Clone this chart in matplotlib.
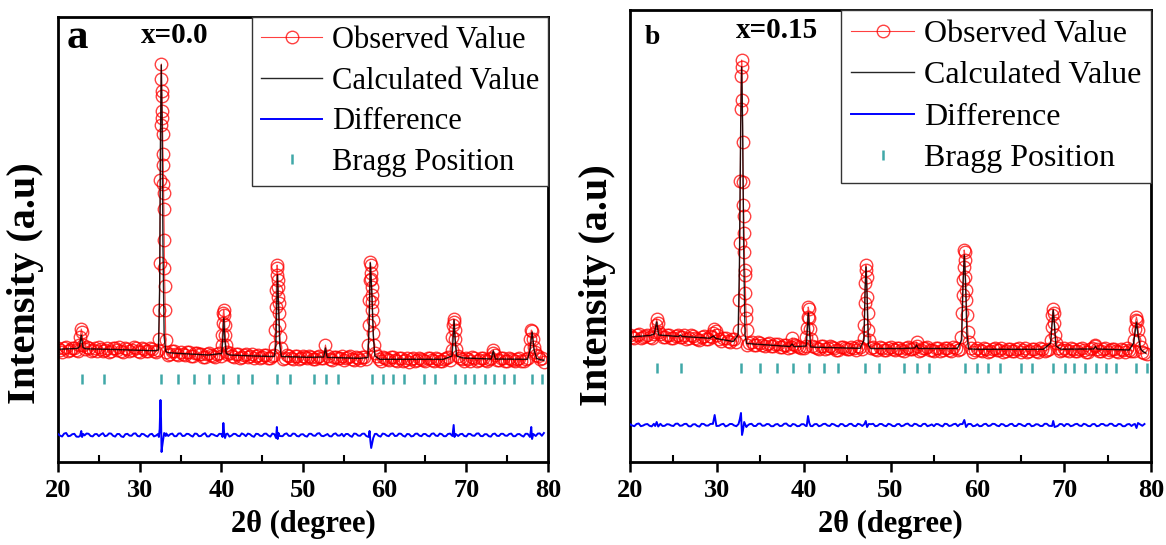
import numpy as np
import matplotlib
matplotlib.use("Agg")
import matplotlib.pyplot as plt
from matplotlib.ticker import MultipleLocator

nan = np.nan

# ----- DATA (arbitrary intensity units) -----
# background points every 0.5 deg from 20.0 (grid 1) and from 20.25 (grid 2),
# nan where a peak list takes over
GRID_X = np.arange(20.0, 80.0, 0.5)
GRID_X2 = GRID_X + 0.25

# panel a, x=0.0
A_OBS_BG = [
    870, 835, 880, 850, 872, 845, nan, 880, 840, 868,
    878, 845, 870, 842, 866, 880, 835, 862, 848, 870,
    830, 858, 845, 862, 835, nan, nan, 800, 845, 810,
    832, 800, 828, 795, 822, 808, 780, 818, 795, 812,
    790, nan, 820, 785, 808, 780, 812, 790, 772, 805,
    782, 798, 770, 800, nan, 760, 798, 772, 790, 760,
    795, 768, 785, 760, 792, 770, 790, 755, 785, 768,
    750, 782, 760, 778, 748, 785, nan, nan, 790, 745,
    772, 750, 778, 742, 768, 755, 735, 770, 748, 765,
    738, 772, 745, 760, 738, 770, 752, nan, 790, 758,
    775, 745, 768, 750, 772, 740, 770, 800, 750, 768,
    742, 765, 738, 770, 745, 775, nan, 800, 760, 735,
]
A_OBS_BG2 = [
    848, 875, 838, 866, 852, nan, 858, 872, 852, 838,
    862, 855, 835, 875, 850, 840, 868, 838, 876, 842,
    866, 838, 872, 840, 855, nan, 835, 815, 838, 800,
    815, 830, 790, 820, 808, 785, 812, 798, 780, 820,
    nan, 808, 790, 815, 775, 800, 785, 810, 790, 775,
    800, 772, 795, nan, nan, 775, 790, 765, 788, 772,
    782, 795, 765, 785, 775, nan, 765, 782, 770, 792,
    768, 790, 752, 772, 780, 758, nan, nan, 765, 778,
    760, 785, 748, 770, 742, 775, 758, 740, 772, 750,
    768, 748, 775, 742, 765, 780, nan, nan, 772, 745,
    760, 778, 745, 770, 752, 765, 820, 752, 775, 745,
    770, 748, 762, 740, 758, nan, nan, 790, 768, nan,
]
A_OBS_PK_X = [22.6, 22.75, 22.85, 22.95, 23.1,
              32.35, 32.42, 32.47, 32.52, 32.57, 32.62, 32.66, 32.70, 32.73, 32.76, 32.79,
              32.82, 32.85, 32.88, 32.91, 32.94, 32.97, 33.0, 33.04, 33.08, 33.13, 33.2,
              40.05, 40.12, 40.18, 40.24, 40.3, 40.36, 40.42, 40.48, 40.55, 40.65,
              46.55, 46.62, 46.68, 46.73, 46.78, 46.83, 46.87, 46.91, 46.95, 46.99, 47.03,
              47.07, 47.12, 47.18, 47.25,
              52.75,
              58.0, 58.07, 58.13, 58.18, 58.23, 58.27, 58.31, 58.35, 58.39, 58.43, 58.47,
              58.51, 58.56, 58.62, 58.7, 58.8,
              68.2, 68.3, 68.38, 68.45, 68.52, 68.58, 68.65, 68.75,
              73.3,
              77.75, 77.85, 77.95, 78.05, 78.15, 78.25, 78.35]
A_OBS_PK_Y = [900, 980, 1060, 1030, 900,
              960, 1250, 1720, 2550, 3100, 3560, 3710, 3440, 3390, 3240, 3170,
              3010, 2810, 2700, 2510, 2420, 2260, 1950, 1670, 1490, 1250, 950,
              900, 1000, 1120, 1220, 1250, 1200, 1100, 1000, 900, 830,
              880, 1050, 1280, 1450, 1600, 1700, 1670, 1550, 1480, 1380, 1320,
              1220, 1100, 980, 870,
              900,
              900, 1100, 1350, 1550, 1730, 1700, 1620, 1560, 1480, 1400, 1330,
              1250, 1150, 1020, 900, 820,
              850, 980, 1100, 1160, 1130, 1050, 960, 860,
              850,
              860, 960, 1050, 1040, 960, 880, 830]
A_CALC_X = [20.0, 22.4, 22.65, 22.85, 23.05, 23.4, 26.0, 28.0, 31.8, 32.3, 32.45, 32.55,
            32.65, 32.75, 32.85, 33.0, 33.2, 33.5, 35.0, 38.4, 40.05, 40.18, 40.3, 40.42,
            40.6, 41.0, 44.0, 46.5, 46.68, 46.8, 46.88, 46.98, 47.15, 47.35, 50.6, 52.55,
            52.75, 52.95, 57.0, 57.95, 58.1, 58.25, 58.42, 58.6, 58.8, 59.4, 67.2, 68.25,
            68.38, 68.5, 68.62, 68.8, 69.6, 73.05, 73.3, 73.55, 77.5, 77.8, 78.05, 78.3,
            78.6, 79.2, 79.5]
A_CALC_Y = [857, 866, 885, 1000, 875, 862, 857, 852, 843, 850, 1500, 3000,
            3700, 3100, 1900, 980, 835, 823, 815, 800, 815, 960, 1170, 960,
            815, 800, 790, 785, 900, 1350, 1600, 1350, 900, 785, 777, 780,
            870, 776, 767, 775, 1100, 1720, 1450, 1000, 790, 757, 757, 790,
            960, 1150, 960, 790, 770, 760, 840, 760, 757, 850, 1030, 850,
            765, 750, 748]
A_DIFF_BG = [
    10, -15, 20, -8, 12, -18, nan, 15, -10, 8,
    -12, 18, -6, 14, -16, 10, -20, 12, -8, 16,
    -14, 8, -18, 12, -6, nan, nan, -10, 14, -12,
    16, -8, 10, -16, 12, -10, 18, -14, 6, -12,
    10, nan, -16, 12, -8, 16, -12, 8, -18, 10,
    -10, 14, -16, 8, nan, -12, 16, -10, 12, -14,
    8, -16, 12, -8, 18, -12, 10, -14, 16, -6,
    -14, 10, -18, 12, -8, 14, nan, nan, 12, -16,
    10, -12, 16, -8, 12, -16, 8, -10, 14, -12,
    10, -14, 16, -10, 8, -12, 14, nan, -10, 12,
    -14, 10, -8, 16, -12, 8, -16, 14, -10, 12,
    -8, 14, -12, 10, -16, 12, nan, -10, 16, 20,
]
A_DIFF_BG2 = [
    -6, 14, -12, 8, -16, nan, -4, 12, -14, 10,
    6, -12, 16, -8, 10, -14, 8, -6, 14, -10,
    12, -8, 6, -14, 10, nan, 16, 8, -12, 14,
    -10, 12, -6, 14, -12, 8, -14, 10, -6, 12,
    nan, 14, -6, 10, -12, 6, 14, -10, 12, -8,
    12, -6, 14, nan, nan, 10, -8, 14, -10, 6,
    -10, 12, -6, 14, -8, nan, -12, 10, -6, 12,
    10, -8, 14, -6, 12, -10, nan, nan, -8, 14,
    -6, 12, -10, 14, -8, 10, -14, 12, -6, 10,
    -8, 12, -6, 14, -12, 10, nan, nan, 8, -10,
    12, -6, 14, -10, 8, -12, 10, -8, 12, -6,
    10, -12, 8, -6, 12, nan, nan, 14, -8, nan,
]
A_DIFF_PK_X = [22.7, 22.85, 22.95, 23.1,
               32.35, 32.45, 32.55, 32.62, 32.68, 32.75, 32.85, 33.0, 33.2,
               40.15, 40.25, 40.35, 40.45, 40.6,
               46.7, 46.8, 46.9, 47.0, 47.15,
               58.05, 58.15, 58.25, 58.35, 58.45, 58.6, 58.8,
               68.3, 68.45, 68.55, 68.7,
               77.8, 77.95, 78.05, 78.2]
A_DIFF_PK_Y = [-10, 40, -20, 10,
               -20, 60, 350, 150, -170, -120, -60, 20, -10,
               -20, 120, 20, -30, 10,
               -30, 80, -40, 20, -10,
               -20, 40, -60, -130, -90, -30, 10,
               -10, 100, -20, 10,
               -20, 80, -40, 10]
A_BRAGG = [22.90, 25.63, 32.61, 34.65, 36.65, 38.53, 40.24, 42.08, 43.71, 46.85,
           48.41, 51.39, 52.82, 54.24, 58.41, 59.75, 61.06, 62.37, 64.86, 66.16,
           68.61, 69.84, 70.98, 72.28, 73.42, 74.65, 75.84, 78.08, 79.30]

# panel b, x=0.15
B_OBS_BG = [
    900, 870, 915, 880, 905, 875, nan, 910, 878, 900,
    870, 905, 882, 860, 898, 872, 850, 888, 862, 880,
    nan, 845, 870, 835, 858, nan, nan, 800, 835, 805,
    825, 795, 818, 790, 812, 780, 805, 778, 800, 782,
    770, nan, 795, 768, 788, 760, 792, 770, 752, 785,
    765, 780, 750, 785, nan, nan, 780, 752, 775, 748,
    780, 755, 772, 745, 778, 760, 790, 748, 772, 755,
    742, 775, 750, 770, 740, 772, 760, nan, nan, 735,
    768, 742, 765, 738, 770, 748, 730, 765, 745, 760,
    735, 768, 740, 758, 732, 765, 748, nan, nan, 740,
    768, 738, 760, 745, 770, 735, 762, 790, 742, 760,
    732, 758, 740, 762, 730, 755, 740, nan, 735, 710,
]
B_OBS_BG2 = [
    885, 905, 872, 895, 880, 908, nan, 885, 902, 868,
    895, 878, 900, 870, 892, 858, 880, 865, 895, nan,
    860, 875, 842, 865, 830, nan, nan, 820, 798, 830,
    800, 815, 792, 808, 785, 800, 772, 810, 790, 770,
    795, nan, 780, 762, 790, 770, 778, 755, 782, 768,
    758, 772, 790, 760, nan, 772, 760, 780, 755, 775,
    760, 768, 750, 775, 758, 770, 742, 768, 782, 750,
    768, 745, 772, 755, 780, 748, nan, nan, 770, 752,
    750, 770, 735, 758, 752, 772, 745, 760, 738, 768,
    750, 730, 760, 745, 770, 742, 760, nan, 772, 748,
    750, 770, 740, 762, 748, 735, 772, 760, 745, 768,
    748, 765, 735, 752, 770, 742, nan, nan, 722, nan,
]
B_OBS_PK_X = [22.85, 22.97, 23.07, 23.17, 23.3,
              29.55, 29.7, 29.85, 30.0,
              32.5, 32.58, 32.64, 32.7, 32.75, 32.8, 32.86, 32.9, 32.94, 32.98, 33.02,
              33.06, 33.1, 33.14, 33.18, 33.22, 33.26, 33.3, 33.35, 33.4, 33.48,
              38.66,
              40.3, 40.38, 40.45, 40.52, 40.58, 40.64, 40.72, 40.82,
              46.9, 46.98, 47.04, 47.1, 47.16, 47.22, 47.27, 47.32, 47.37, 47.45, 47.55,
              53.0,
              58.15, 58.23, 58.3, 58.36, 58.42, 58.48, 58.53, 58.58, 58.63, 58.68, 58.73,
              58.8, 58.9, 59.0,
              68.45, 68.55, 68.64, 68.72, 68.8, 68.88, 68.96, 69.08,
              73.6,
              78.05, 78.15, 78.25, 78.33, 78.42, 78.52, 78.65, 78.8]
B_OBS_PK_Y = [930, 1000, 1060, 1020, 930,
              920, 960, 940, 900,
              950, 1250, 1820, 2440, 3160, 3490, 3650, 3580, 3250, 2830, 2430,
              2200, 2090, 1920, 1730, 1550, 1500, 1320, 1150, 1070, 950,
              870,
              880, 970, 1080, 1180, 1160, 1070, 960, 860,
              870, 1000, 1220, 1420, 1600, 1550, 1480, 1280, 1120, 950, 850,
              830,
              880, 1120, 1300, 1450, 1580, 1750, 1730, 1650, 1480, 1350, 1250,
              1100, 930, 830,
              850, 980, 1100, 1160, 1120, 1020, 900, 820,
              800,
              850, 960, 1050, 1080, 1040, 950, 850, 780]
B_CALC_X = [20.0, 22.3, 22.8, 23.07, 23.3, 25.6, 25.8, 26.0, 29.2, 29.6, 29.9, 31.9,
            32.45, 32.6, 32.75, 32.86, 32.97, 33.1, 33.25, 33.44, 38.4, 38.66, 38.9,
            40.3, 40.42, 40.54, 40.66, 40.8, 41.5, 46.5, 46.95, 47.07, 47.18, 47.3,
            47.45, 47.7, 51.4, 52.8, 53.0, 53.2, 57.7, 58.2, 58.35, 58.5, 58.65, 58.8,
            59.0, 60.5, 67.6, 68.45, 68.6, 68.74, 68.88, 69.05, 69.6, 73.4, 73.6, 73.8,
            77.5, 78.0, 78.2, 78.33, 78.5, 78.8, 79.1, 79.4]
B_CALC_Y = [880, 895, 910, 1030, 900, 885, 900, 885, 868, 890, 865, 835,
            900, 1600, 3000, 3580, 3000, 1700, 900, 815, 785, 810, 783,
            790, 950, 1120, 950, 780, 777, 767, 850, 1350, 1580, 1300,
            800, 765, 765, 770, 800, 765, 765, 850, 1400, 1700, 1400, 900,
            760, 757, 757, 820, 1000, 1150, 1000, 790, 758, 760, 785, 760,
            750, 820, 950, 1030, 900, 760, 733, 720]
B_DIFF_BG = [
    8, -12, 15, -6, 10, -14, nan, 12, -8, 6,
    -10, 14, -5, 12, -14, 8, -16, 10, -6, 12,
    nan, 6, -14, 10, -5, nan, nan, -8, 12, -10,
    14, -6, 8, -12, 10, -8, 15, -12, 5, -10,
    8, nan, -12, 10, -6, 12, -10, 6, -14, 8,
    -8, 12, -12, 6, nan, nan, 12, -8, 10, -12,
    6, -12, 10, -6, 14, -10, 8, -12, 12, -5,
    -12, 8, -14, 10, -6, 12, 8, nan, nan, -12,
    8, -10, 12, -6, 10, -12, 6, -8, 12, -10,
    8, -12, 12, -8, 6, -10, 12, nan, nan, 10,
    -12, 8, -6, 12, -10, 6, -12, 10, -8, 10,
    -6, 12, -10, 8, -12, 10, 6, nan, -8, nan,
]
B_DIFF_BG2 = [
    -5, 10, -12, 6, -8, 12, nan, -10, 8, -6,
    12, -8, 10, -12, 6, -10, 12, -6, 10, nan,
    -8, 12, -6, 10, -12, nan, nan, 8, -10, 12,
    -8, 10, -12, 6, -10, 12, -6, 10, -12, 8,
    -10, nan, 8, -12, 10, -6, 12, -8, 10, -12,
    10, -8, 12, -10, nan, 8, -12, 10, -6, 12,
    -10, 8, -12, 10, -6, 12, -8, 10, -12, 6,
    10, -6, 12, -10, 8, -12, nan, nan, 10, -8,
    -12, 8, -10, 12, -6, 10, -12, 8, -10, 12,
    -6, 10, -12, 8, -10, 12, -8, nan, -10, 8,
    10, -12, 8, -6, 12, -10, 8, -12, 10, -6,
    12, -8, 10, -12, 6, -10, nan, nan, 10, nan,
]
B_DIFF_PK_X = [22.9, 23.07, 23.25,
               29.55, 29.75, 29.95,
               32.5, 32.65, 32.78, 32.9, 33.0, 33.15, 33.4,
               40.35, 40.5, 40.65, 40.8,
               47.0, 47.15, 47.3, 47.5,
               58.3, 58.5, 58.7, 58.95,
               68.6, 68.74, 68.9,
               78.15, 78.33, 78.5]
B_DIFF_PK_Y = [-10, 30, -15,
               10, 100, -10,
               10, 60, 120, -100, -60, 30, -20,
               -10, 90, 20, -10,
               10, 40, -20, 10,
               10, 50, -20, 10,
               -10, 40, -20,
               10, -30, 20]
B_BRAGG = [23.13, 25.87, 32.81, 35.0, 36.9, 38.76, 40.58, 42.33, 43.91, 47.12,
           48.67, 51.6, 53.03, 54.46, 58.63, 59.97, 61.2, 62.56, 65.05, 66.32,
           68.74, 70.09, 71.13, 72.39, 73.66, 74.77, 75.96, 78.33, 79.53]

LEGEND_LABELS = ["Observed Value", "Calculated Value", "Difference", "Bragg Position"]

# ----- HELPERS -----
W, H = 1166, 545
SERIF = "Liberation Serif"


def merge(bg1, bg2, pk_x, pk_y):
    # both background grids + peak points, sorted along 2theta
    xs, ys = [np.asarray(pk_x, float)], [np.asarray(pk_y, float)]
    for gx, gy in ((GRID_X, bg1), (GRID_X2, bg2)):
        gy = np.asarray(gy, dtype=float)
        keep = ~np.isnan(gy)
        xs.append(gx[keep])
        ys.append(gy[keep])
    x = np.concatenate(xs)
    y = np.concatenate(ys)
    order = np.argsort(x)
    return x[order], y[order]


def fig_text(px, py, s, **kw):
    fig.text(px / W, 1 - py / H, s, ha="center", va="center", family=SERIF, **kw)


def draw_panel(ax, obs, calc, diff, bragg, bragg_y, ylim, leg_size):
    l_obs, = ax.plot(obs[0], obs[1], color="red", lw=0.8, marker="o", ms=9,
                     mfc="none", mew=1.0, alpha=0.75, zorder=2)
    l_calc, = ax.plot(calc[0], calc[1], color="black", lw=1.0, alpha=0.85, zorder=3)
    l_diff, = ax.plot(diff[0], diff[1], color="blue", lw=1.4, zorder=3)
    l_bragg, = ax.plot(bragg, [bragg_y] * len(bragg), ls="none", marker="|",
                       ms=7.5, mew=1.8, color="#008b8b", alpha=0.75, zorder=3)

    ax.set_xlim(20, 80)
    ax.set_ylim(*ylim)
    ax.set_yticks([])
    ax.xaxis.set_major_locator(MultipleLocator(10))
    ax.xaxis.set_minor_locator(MultipleLocator(5))
    ax.tick_params(axis="x", which="major", direction="out", length=7, width=1.8, pad=5)
    ax.tick_params(axis="x", which="minor", direction="in", length=5, width=1.5)
    for lab in ax.get_xticklabels():
        lab.set_fontfamily(SERIF)
        lab.set_fontweight("bold")
        lab.set_fontsize(19)
    for sp in ax.spines.values():
        sp.set_linewidth(2.0)
    ax.set_xlabel("2θ (degree)", family=SERIF, fontweight="bold", fontsize=22, labelpad=6)

    leg = ax.legend([l_obs, l_calc, l_diff, l_bragg], LEGEND_LABELS,
                    loc="upper right", bbox_to_anchor=(1, 1), borderaxespad=0,
                    prop={"family": SERIF, "size": leg_size},
                    fancybox=False, framealpha=1, edgecolor="#333333",
                    handlelength=2.0, handletextpad=0.3, labelspacing=0.38,
                    borderpad=0.3)
    leg.get_frame().set_linewidth(1.0)


# ----- PLOT -----
fig = plt.figure(figsize=(W / 100, H / 100), dpi=100)

ax_a = fig.add_axes([58 / W, (H - 462) / H, 490 / W, (462 - 17) / H])
draw_panel(ax_a,
           merge(A_OBS_BG, A_OBS_BG2, A_OBS_PK_X, A_OBS_PK_Y),
           (A_CALC_X, A_CALC_Y),
           merge(A_DIFF_BG, A_DIFF_BG2, A_DIFF_PK_X, A_DIFF_PK_Y),
           A_BRAGG, 560, (-270, 4180), 22)

ax_b = fig.add_axes([630 / W, (H - 462) / H, 521 / W, (462 - 10) / H])
draw_panel(ax_b,
           merge(B_OBS_BG, B_OBS_BG2, B_OBS_PK_X, B_OBS_PK_Y),
           (B_CALC_X, B_CALC_Y),
           merge(B_DIFF_BG, B_DIFF_BG2, B_DIFF_PK_X, B_DIFF_PK_Y),
           B_BRAGG, 570, (-370, 4150), 23)

# panel tags and y labels
fig_text(77, 38, "a", fontsize=31, fontweight="bold")
fig_text(175, 35, "x=0.0", fontsize=21, fontweight="bold")
fig_text(652, 37, "b", fontsize=20, fontweight="bold")
fig_text(777, 30, "x=0.15", fontsize=21, fontweight="bold")
fig_text(26, 283, "Intensity (a.u)", fontsize=29, fontweight="bold", rotation=90)
fig_text(598, 285, "Intensity (a.u)", fontsize=29, fontweight="bold", rotation=90)

fig.savefig("out.png", dpi=100)
